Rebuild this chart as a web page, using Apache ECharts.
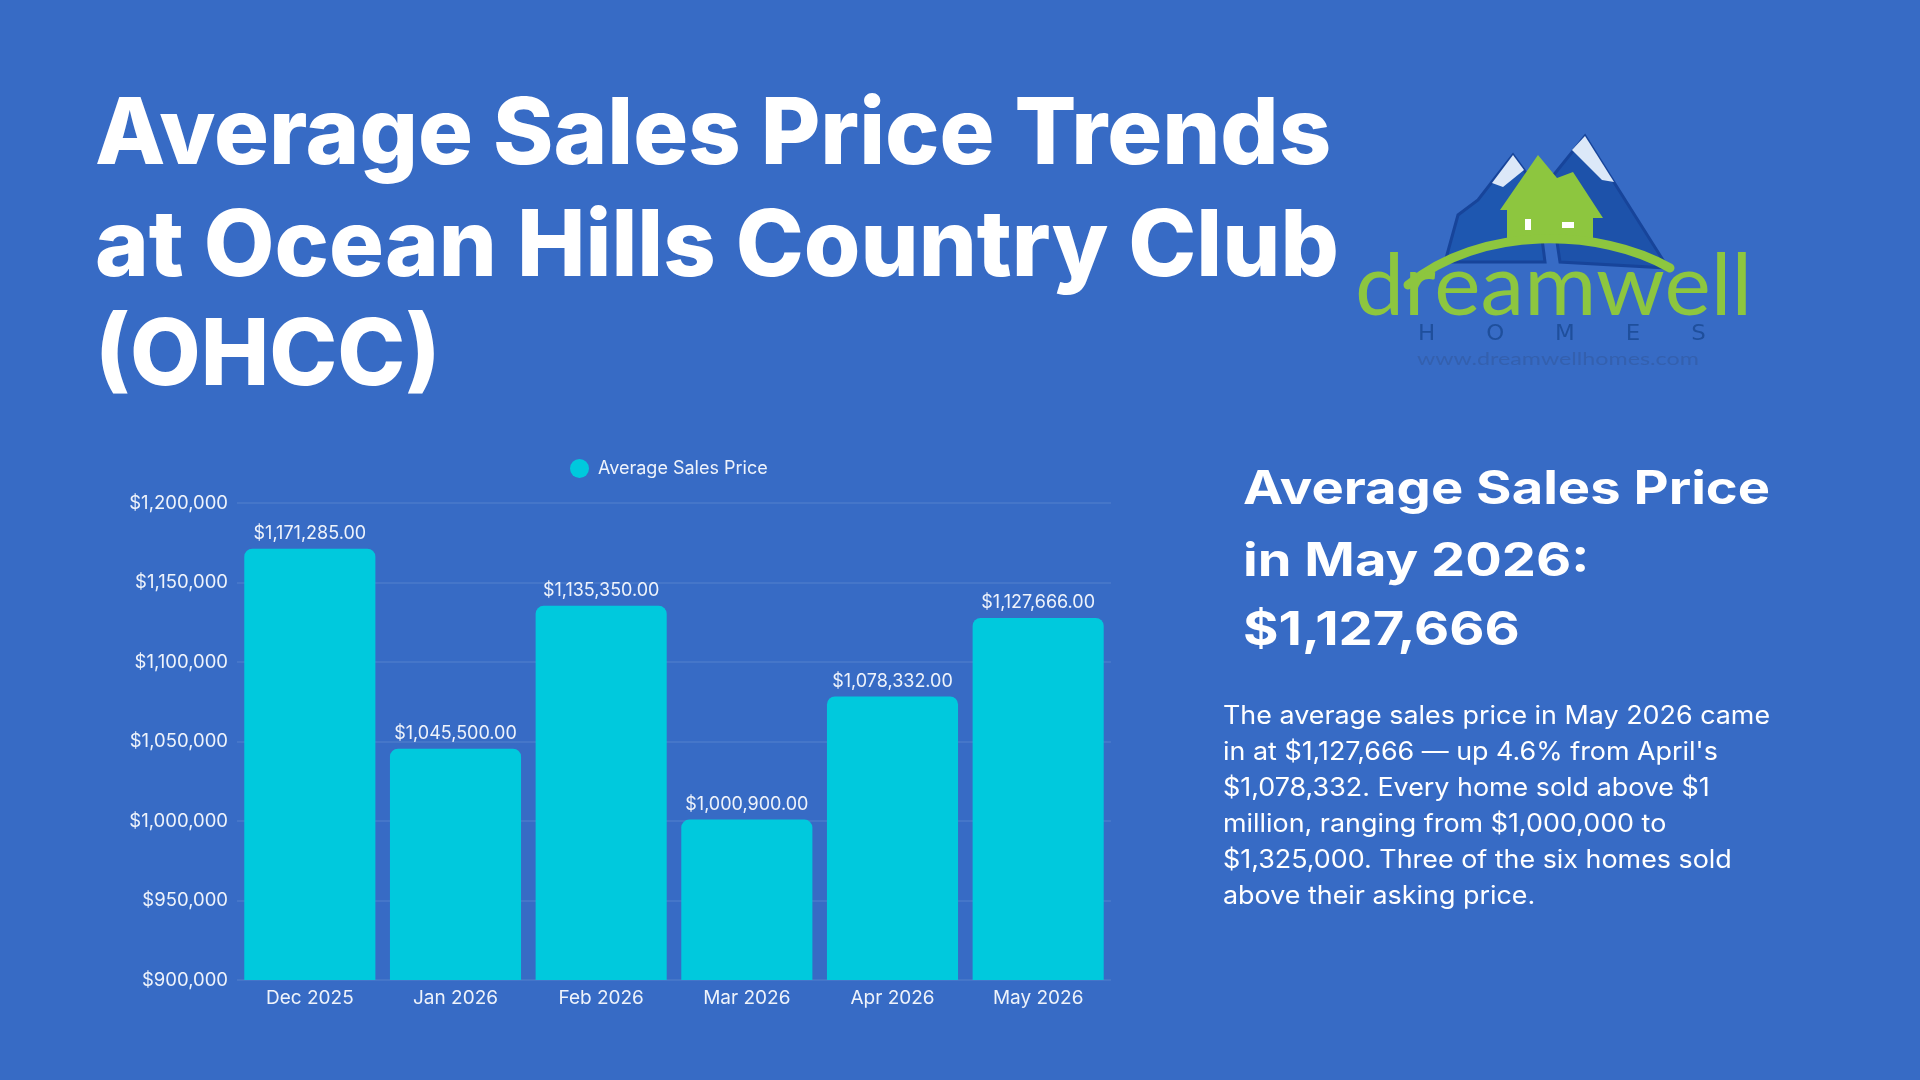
<!DOCTYPE html>
<html>
<head>
<meta charset="utf-8">
<script src="https://cdn.jsdelivr.net/npm/echarts@6/dist/echarts.min.js"></script>
<style>
html,body{margin:0;padding:0;background:#376BC5;}
#chart{width:1920px;height:1080px;}
</style>
</head>
<body>
<div id="chart"></div>
<script>
const categories = ['Dec 2025','Jan 2026','Feb 2026','Mar 2026','Apr 2026','May 2026'];
const avgSalesPrice = [1171285, 1045500, 1135350, 1000900, 1078332, 1127666];
const seriesName = 'Average Sales Price';
const yTicks = { min: 900000, max: 1200000, interval: 50000 };
const titleLines = ['Average Sales Price Trends', 'at Ocean Hills Country Club', '(OHCC)'];
const headlineLines = ['Average Sales Price', 'in May 2026:', '$1,127,666'];
const bodyLines = [
  'The average sales price in May 2026 came',
  "in at $1,127,666 \u2014 up 4.6% from April's",
  '$1,078,332. Every home sold above $1',
  'million, ranging from $1,000,000 to',
  '$1,325,000. Three of the six homes sold',
  'above their asking price.'
];

const BG = '#376BC5';
const BAR = '#00C9DD';
const TXT = '#EEF3FB';
const FONT = 'Inter, "Noto Sans", sans-serif';

function money(v, dec) {
  return '$' + Number(v).toLocaleString('en-US', {minimumFractionDigits: dec, maximumFractionDigits: dec});
}

const chart = echarts.init(document.getElementById('chart'), null, {renderer: 'canvas'});

const graphics = [];
titleLines.forEach((t, i) => {
  graphics.push({
    type: 'text', x: 95, y: [136, 248, 357][i], scaleX: 0.995,
    style: { text: t, fill: '#FFFFFF', font: '800 92px ' + FONT, verticalAlign: 'middle', align: 'left' }
  });
});
headlineLines.forEach((t, i) => {
  graphics.push({
    type: 'text', x: 1243, y: [490, 562, 631][i], scaleX: 1.18,
    style: { text: t, fill: '#FFFFFF', font: '700 46px ' + FONT, verticalAlign: 'middle', align: 'left' }
  });
});
graphics.push({
  type: 'text', x: 1223, y: 698, scaleX: 1.075,
  style: { text: bodyLines.join('\n'), fill: '#FFFFFF', font: '400 25px ' + FONT, lineHeight: 36, verticalAlign: 'top', align: 'left' }
});

// Logo (decorative)
graphics.push(
  { type: 'polygon', shape: { points: [[1445,262],[1458,215],[1478,200],[1495,178],[1513,155],[1535,185],[1545,262]] },
    style: { fill: '#1E57B0', stroke: '#17449A', lineWidth: 3 } },
  { type: 'polygon', shape: { points: [[1492,183],[1513,155],[1524,170],[1503,187]] },
    style: { fill: '#DCE8F8' } },
  { type: 'polygon', shape: { points: [[1548,182],[1585,136],[1622,195],[1668,268],[1560,262]] },
    style: { fill: '#1D52AA', stroke: '#17449A', lineWidth: 3 } },
  { type: 'polygon', shape: { points: [[1572,150],[1585,136],[1614,182],[1602,180]] },
    style: { fill: '#DCE8F8' } },
  { type: 'polygon', shape: { points: [[1500,210],[1538,155],[1557,178],[1573,172],[1603,218],[1593,218],[1593,242],[1507,242],[1507,210]] },
    style: { fill: '#8DC63F' } },
  { type: 'rect', shape: { x: 1525, y: 219, width: 6, height: 11 }, style: { fill: '#FFFFFF' } },
  { type: 'rect', shape: { x: 1562, y: 222, width: 12, height: 6 }, style: { fill: '#FFFFFF' } },
  { type: 'bezierCurve', shape: { x1: 1408, y1: 285, x2: 1670, y2: 268, cpx1: 1480, cpy1: 225, cpx2: 1600, cpy2: 228 },
    style: { stroke: '#8DC63F', lineWidth: 9, fill: null, lineCap: 'round' } },
  { type: 'text', x: 1355, y: 330, scaleX: 1.02,
    style: { text: 'dreamwell', fill: '#8DC63F', font: '400 86px Lato, "Open Sans", sans-serif', verticalAlign: 'bottom', align: 'left' } },
  { type: 'text', x: 1418, y: 335, scaleX: 1.09,
    style: { text: 'H       O       M       E       S', fill: '#1F4F9C', font: '400 21px "DejaVu Sans", sans-serif', verticalAlign: 'middle', align: 'left' } },
  { type: 'text', x: 1417, y: 360, scaleX: 1.37,
    style: { text: 'www.dreamwellhomes.com', fill: '#3460AE', font: '400 17px Lato, sans-serif', verticalAlign: 'middle', align: 'left' } }
);

chart.setOption({
  backgroundColor: BG,
  animation: false,
  textStyle: { fontFamily: FONT },
  legend: {
    data: [seriesName],
    left: 565, top: 454,
    icon: 'circle', itemWidth: 19, itemHeight: 19,
    textStyle: { color: TXT, fontSize: 18, fontFamily: FONT, padding: [0,0,0,4] }
  },
  grid: { left: 237, right: 809, top: 503, bottom: 100, containLabel: false },
  xAxis: {
    type: 'category', data: categories,
    axisLine: { show: false }, axisTick: { show: false },
    axisLabel: { color: TXT, fontSize: 19, fontFamily: FONT, margin: 9 }
  },
  yAxis: {
    type: 'value', min: yTicks.min, max: yTicks.max, interval: yTicks.interval,
    axisLine: { show: false }, axisTick: { show: false },
    splitLine: { lineStyle: { color: 'rgba(255,255,255,0.10)', width: 1.5 } },
    axisLabel: { color: TXT, fontSize: 18.5, fontFamily: FONT, margin: 9, formatter: v => money(v, 0) }
  },
  series: [{
    name: seriesName, type: 'bar', data: avgSalesPrice,
    barCategoryGap: '10%',
    itemStyle: { color: BAR, borderRadius: [8,8,0,0] },
    label: { show: true, position: 'top', distance: 6, color: TXT, fontSize: 18, fontFamily: FONT,
      formatter: p => money(p.value, 2) }
  }],
  graphic: graphics
});
</script>
</body>
</html>
